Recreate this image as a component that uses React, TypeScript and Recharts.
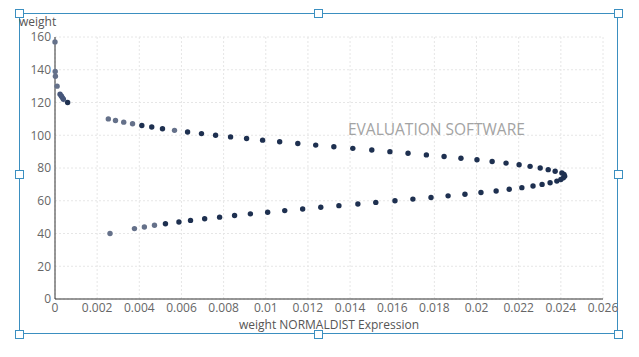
import {
  ScatterChart,
  Scatter,
  XAxis,
  YAxis,
  CartesianGrid,
  Cell,
} from "recharts";

// weight values and their NORMALDIST expression
const weights = [
  40, 43, 44, 45, 46, 47, 48, 49, 50, 51, 52, 53, 54, 55, 56, 57, 58, 59, 60,
  61, 62, 63, 64, 65, 66, 67, 68, 69, 70, 71, 72, 73, 74, 75, 76, 77, 78, 79,
  80, 81, 82, 83, 84, 85, 86, 87, 88, 89, 90, 91, 92, 93, 94, 95, 96, 97, 98,
  99, 100, 101, 102, 103, 104, 105, 106, 107, 108, 109, 110, 120, 122, 123,
  124, 125, 130, 136, 139, 157,
];

const normDist = [
  0.00261, 0.00377, 0.00424, 0.00472, 0.00524, 0.00588, 0.00643, 0.0071,
  0.00781, 0.00852, 0.00927, 0.01009, 0.0109, 0.01175, 0.01261, 0.01347,
  0.01437, 0.01522, 0.01613, 0.01698, 0.01784, 0.01865, 0.01945, 0.02021,
  0.02093, 0.02155, 0.02215, 0.02268, 0.02311, 0.02349, 0.02381, 0.024,
  0.02412, 0.02418, 0.02415, 0.02405, 0.02373, 0.0234, 0.02302, 0.02254,
  0.02202, 0.0214, 0.02074, 0.02002, 0.01926, 0.01846, 0.01762, 0.01675,
  0.01589, 0.01503, 0.01413, 0.01323, 0.01237, 0.01152, 0.01066, 0.00985,
  0.00909, 0.00833, 0.00762, 0.00695, 0.00629, 0.00567, 0.0051, 0.00459,
  0.00412, 0.00368, 0.00326, 0.00287, 0.00253, 0.0006, 0.0004, 0.00035,
  0.0003, 0.00024, 0.0001, 0.00002, 0.00001, 0,
];

// points drawn in the lighter shade
const lightWeights = [40, 43, 44, 45, 103, 107, 108, 109, 110, 130, 136, 139, 157];
const midWeights = [122, 123, 124, 125];

const xTicks = [
  0, 0.002, 0.004, 0.006, 0.008, 0.01, 0.012, 0.014, 0.016, 0.018, 0.02,
  0.022, 0.024, 0.026,
];
const yTicks = [0, 20, 40, 60, 80, 100, 120, 140, 160];

const data = weights.map((w, i) => ({ weight: w, norm: normDist[i] }));

const FRAME = "#3b8fc0";
const FONT = "'Segoe UI', 'Open Sans', sans-serif";

function Handle({ x, y }: { x: number; y: number }) {
  return (
    <div
      style={{
        position: "absolute",
        left: x - 4,
        top: y - 4,
        width: 7,
        height: 7,
        background: "#fff",
        border: `1px solid ${FRAME}`,
      }}
    />
  );
}

const Dot = (props: any) => (
  <circle cx={props.cx} cy={props.cy} r={2.7} fill={props.fill} />
);

export default function App() {
  const dotColor = (w: number) =>
    lightWeights.includes(w)
      ? "#65718a"
      : midWeights.includes(w)
      ? "#46567a"
      : "#1e3050";

  return (
    <div
      style={{
        position: "fixed",
        left: 0,
        top: 0,
        width: 639,
        height: 357,
        background: "#fff",
        fontFamily: FONT,
      }}
    >
      {/* selection frame */}
      <div
        style={{
          position: "absolute",
          left: 19,
          top: 13,
          width: 599,
          height: 321,
          border: `1px solid ${FRAME}`,
          boxSizing: "border-box",
        }}
      />

      <ScatterChart
        width={639}
        height={357}
        margin={{ top: 37, right: 36, bottom: 38, left: 25 }}
        style={{ position: "absolute", left: 0, top: 0 }}
      >
        <CartesianGrid stroke="#e6e6e6" strokeDasharray="2 2" />
        <XAxis
          type="number"
          dataKey="norm"
          domain={[0, 0.026]}
          ticks={xTicks}
          interval={0}
          height={20}
          tickLine={false}
          axisLine={{ stroke: "#333" }}
          tick={{ fill: "#666", fontSize: 12, fontFamily: FONT }}
          tickSize={2}
          tickMargin={2}
          label={{
            value: "weight NORMALDIST Expression",
            position: "bottom",
            offset: 1,
            fill: "#555",
            fontSize: 12,
            fontFamily: FONT,
          }}
        />
        <YAxis
          type="number"
          dataKey="weight"
          domain={[0, 160]}
          ticks={yTicks}
          interval={0}
          width={30}
          tickLine={false}
          axisLine={{ stroke: "#333" }}
          tick={{ fill: "#666", fontSize: 12, fontFamily: FONT }}
          tickSize={2}
          tickMargin={2}
          label={{
            value: "weight",
            content: () => (
              <text x={19} y={26} fill="#555" fontSize={12} fontFamily={FONT}>
                weight
              </text>
            ),
          }}
        />
        <Scatter data={data} shape={Dot} isAnimationActive={false}>
          {data.map((d, i) => (
            <Cell key={i} fill={dotColor(d.weight)} />
          ))}
        </Scatter>
      </ScatterChart>

      <div
        style={{
          position: "absolute",
          left: 348,
          top: 118,
          fontSize: 15.5,
          color: "#a3a3a3",
          whiteSpace: "nowrap",
        }}
      >
        EVALUATION SOFTWARE
      </div>

      {[
        [19, 13],
        [318, 13],
        [618, 13],
        [19, 174],
        [618, 174],
        [19, 334],
        [318, 334],
        [618, 334],
      ].map(([x, y], i) => (
        <Handle key={i} x={x} y={y} />
      ))}
    </div>
  );
}
